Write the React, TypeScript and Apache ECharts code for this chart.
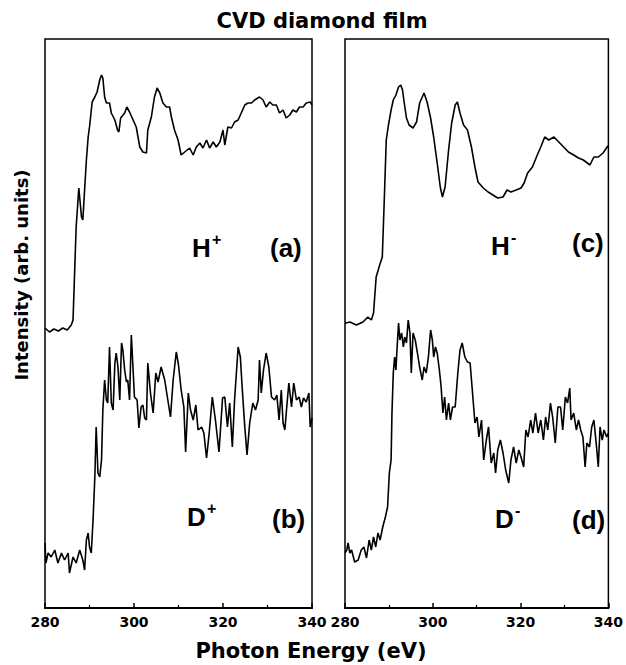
import React, { useEffect, useRef } from "react";
import * as echarts from "echarts";

// Photon energy (eV) vs intensity (arb. units)
const spectrumHPlus: [number, number][] = [
  [280, 280], [281, 276], [282, 279], [283, 277], [284, 280], [285, 278], [285.9, 283], [286.3, 288],
  [287.0, 381], [287.6, 420], [288.2, 391], [288.5, 388], [289.3, 448], [289.7, 471], [290.0, 481], [290.6, 506],
  [291.2, 511], [291.7, 516], [292.3, 528], [292.7, 533], [293.0, 530], [293.4, 511], [293.8, 505], [294.5, 505],
  [294.9, 495], [295.7, 488], [296.3, 478], [296.6, 476], [297.0, 490], [297.9, 495], [298.4, 501], [299.0, 496],
  [299.8, 488], [300.5, 481], [301.3, 461], [302.0, 456], [302.8, 455], [303.1, 478], [303.9, 491], [304.6, 511],
  [305.2, 520], [305.8, 515], [306.5, 505], [307.3, 501], [308.0, 501], [308.4, 491], [309.1, 478], [309.9, 468],
  [310.6, 453], [311.4, 456], [312.5, 460], [313.3, 453], [314.0, 461], [314.8, 465], [315.5, 460], [316.3, 468],
  [317.0, 460], [317.8, 466], [318.5, 461], [319.3, 466], [320.0, 478], [320.4, 463], [321.1, 481], [321.9, 480],
  [322.6, 486], [323.4, 488], [324.1, 495], [324.9, 503], [325.6, 505], [326.4, 505], [327.1, 508], [328.2, 511],
  [329.0, 508], [329.7, 501], [330.5, 506], [331.2, 503], [332.0, 503], [332.7, 495], [333.5, 498], [334.2, 490],
  [335.0, 493], [335.7, 498], [336.5, 496], [337.2, 501], [338.0, 501], [338.7, 505], [339.6, 506], [340, 503],
];

const spectrumDPlus: [number, number][] = [
  [280, 65], [280.2, 45], [280.7, 55], [281.4, 51], [282.2, 58], [282.9, 45], [283.7, 55], [284.4, 48],
  [285.2, 55], [285.5, 35], [286.3, 51], [287.0, 45], [287.8, 58], [288.5, 48], [288.9, 38], [289.3, 68],
  [289.7, 75], [290.0, 61], [290.4, 55], [290.8, 88], [291.2, 131], [291.5, 181], [291.9, 135], [292.3, 131],
  [292.7, 148], [293.0, 198], [293.4, 228], [293.8, 208], [294.1, 205], [294.5, 261], [294.9, 205], [295.3, 198],
  [295.7, 245], [296.0, 255], [296.4, 241], [296.8, 208], [297.2, 265], [297.5, 258], [297.9, 238], [298.3, 226],
  [298.6, 228], [299.0, 208], [299.4, 273], [299.8, 238], [300.1, 211], [300.7, 208], [301.1, 180], [301.6, 201],
  [302.0, 203], [302.4, 190], [302.8, 188], [303.1, 245], [303.7, 215], [304.3, 195], [304.9, 235], [305.4, 226],
  [306.1, 241], [306.9, 228], [307.6, 208], [308.2, 191], [308.8, 228], [309.5, 256], [310.0, 243], [310.6, 218],
  [311.2, 201], [311.6, 156], [312.2, 215], [312.7, 198], [313.3, 188], [313.9, 203], [314.4, 178], [315.2, 181],
  [315.7, 175], [316.3, 150], [316.9, 175], [317.6, 211], [318.3, 188], [319.1, 156], [319.9, 210], [320.4, 211],
  [321.0, 181], [321.5, 205], [322.1, 161], [322.6, 208], [323.4, 261], [323.9, 251], [324.3, 221], [324.9, 181],
  [325.4, 153], [326.0, 185], [326.7, 205], [327.3, 198], [327.9, 208], [328.2, 248], [328.6, 215], [329.1, 238],
  [329.7, 255], [330.3, 241], [330.9, 211], [331.6, 208], [332.1, 213], [332.6, 188], [333.1, 218], [333.5, 185],
  [333.9, 178], [334.4, 205], [334.8, 225], [335.4, 201], [335.9, 225], [336.5, 208], [337.1, 211], [337.6, 201],
  [338.1, 210], [338.7, 206], [339.3, 215], [339.6, 181], [340, 190],
];

const spectrumHMinus: [number, number][] = [
  [280, 284], [280.2, 285], [281.1, 286], [282.6, 283], [284.1, 286], [285.2, 291], [286.0, 288], [286.5, 295],
  [287.1, 331], [287.9, 343], [288.5, 351], [289.0, 415], [289.4, 468], [289.9, 483], [290.5, 498], [291.0, 508],
  [291.6, 513], [292.2, 521], [292.7, 523], [293.1, 518], [293.5, 505], [294.0, 490], [294.6, 483], [295.5, 480],
  [296.3, 486], [297.0, 505], [298.0, 515], [298.7, 506], [299.5, 490], [300.2, 471], [301.0, 445], [301.7, 421],
  [302.2, 411], [302.8, 421], [303.6, 458], [304.3, 485], [305.1, 503], [305.6, 506], [306.2, 495], [307.0, 483],
  [307.9, 478], [308.8, 461], [309.6, 441], [310.3, 426], [311.5, 420], [312.6, 416], [313.7, 413], [314.8, 410],
  [316.0, 411], [316.9, 418], [317.8, 416], [319.0, 418], [320.1, 420], [320.8, 425], [321.6, 435], [322.7, 441],
  [323.8, 453], [324.6, 461], [325.5, 471], [326.4, 468], [327.6, 471], [328.7, 466], [329.8, 461], [330.9, 456],
  [332.1, 453], [333.2, 450], [334.3, 448], [335.8, 443], [336.7, 451], [337.7, 451], [338.8, 455], [339.7, 461],
  [340, 462],
];

const spectrumDMinus: [number, number][] = [
  [280, 55], [280.4, 58], [280.7, 65], [281.1, 55], [281.5, 58], [282.2, 46], [283.0, 48], [283.7, 58],
  [284.3, 61], [284.9, 50], [285.5, 68], [286.0, 58], [286.5, 71], [287.0, 61], [287.5, 75], [288.0, 68],
  [288.6, 81], [289.2, 91], [289.7, 101], [290.1, 135], [290.5, 148], [290.7, 195], [291.0, 235], [291.3, 251],
  [291.6, 238], [291.8, 255], [292.2, 285], [292.5, 268], [292.9, 275], [293.3, 261], [293.6, 271], [294.0, 265],
  [294.4, 288], [294.8, 275], [295.1, 235], [295.5, 275], [296.0, 268], [296.5, 255], [297.0, 241], [297.6, 228],
  [298.0, 241], [298.5, 235], [299.0, 251], [299.5, 278], [299.9, 268], [300.2, 251], [300.6, 261], [301.0, 255],
  [301.5, 238], [301.9, 221], [302.3, 195], [302.7, 211], [303.1, 188], [303.6, 205], [304.0, 188], [304.5, 201],
  [305.1, 201], [305.7, 235], [306.2, 258], [306.7, 265], [307.3, 251], [307.9, 246], [308.5, 245], [309.0, 218],
  [309.6, 185], [310.1, 191], [310.5, 171], [311.1, 188], [311.6, 148], [312.2, 168], [312.7, 181], [313.3, 145],
  [313.9, 155], [314.3, 135], [314.8, 158], [315.4, 168], [316.0, 155], [316.6, 138], [317.3, 125], [317.8, 148],
  [318.4, 161], [319.0, 145], [319.6, 158], [320.1, 151], [320.7, 141], [321.2, 178], [321.7, 171], [322.3, 188],
  [322.8, 175], [323.4, 195], [324.0, 175], [324.6, 188], [325.2, 168], [325.7, 191], [326.2, 178], [326.8, 205],
  [327.3, 191], [327.9, 165], [328.5, 201], [329.1, 201], [329.6, 178], [330.2, 211], [330.7, 205], [331.2, 220],
  [331.5, 188], [332.1, 195], [332.7, 178], [333.2, 188], [333.7, 178], [334.2, 171], [334.7, 141], [335.1, 165],
  [335.7, 161], [336.2, 181], [336.7, 188], [337.3, 161], [337.7, 141], [338.1, 181], [338.6, 168], [339.0, 178],
  [339.6, 171], [340, 175],
];

const xTickValues = [280, 300, 320, 340];
const panelLabels = ["(a)", "(b)", "(c)", "(d)"];
const ionLabels = ["H", "D", "H", "D"];
const ionCharges = ["+", "+", "-", "-"];

export default function App() {
  const ref = useRef<HTMLDivElement>(null);

  useEffect(() => {
    document.body.style.margin = "0";
    if (!ref.current) return;
    const chart = echarts.init(ref.current, null, { renderer: "svg" });

    const xAxisBase = (gridIndex: number) => ({
      type: "value" as const,
      gridIndex,
      min: xTickValues[0],
      max: xTickValues[xTickValues.length - 1],
      interval: xTickValues[1] - xTickValues[0],
      axisLine: { show: true, onZero: false, lineStyle: { color: "#000", width: 2 } },
      axisTick: { show: true, inside: true, length: 5, lineStyle: { color: "#000", width: 1.5 } },
      minorTick: { show: true, splitNumber: 2, length: 3, lineStyle: { color: "#000", width: 1.2 } },
      splitLine: { show: false },
      minorSplitLine: { show: false },
      axisLabel: {
        color: "#000",
        fontFamily: "DejaVu Sans",
        fontWeight: "bold" as const,
        fontSize: 14,
        margin: 7,
      },
    });

    const yAxisBase = (gridIndex: number) => ({
      type: "value" as const,
      gridIndex,
      min: 0,
      max: 569,
      show: false,
    });

    const lineSeries = (data: [number, number][], idx: number) => ({
      type: "line" as const,
      xAxisIndex: idx,
      yAxisIndex: idx,
      data,
      showSymbol: false,
      symbol: "none",
      lineStyle: { color: "#000", width: 1.6 },
      z: 3,
    });

    const labelFont = "bold 26px 'Liberation Sans', Arial, sans-serif";
    const chargeFont = "bold 16px 'Liberation Sans', Arial, sans-serif";

    // label anchor positions (pixels)
    const ionPos = [
      [192, 248],
      [187, 517],
      [491, 246],
      [495, 519],
    ];
    const panelPos = [
      [270, 248],
      [272, 519],
      [572, 243],
      [572, 520],
    ];

    const graphics: any[] = [
      {
        type: "text",
        x: 322,
        y: 21,
        style: {
          text: "CVD diamond film",
          font: "bold 21px 'DejaVu Sans', sans-serif",
          fill: "#000",
          align: "center",
          verticalAlign: "middle",
        },
      },
      {
        type: "text",
        x: 311,
        y: 651,
        style: {
          text: "Photon Energy (eV)",
          font: "bold 21px 'DejaVu Sans', sans-serif",
          fill: "#000",
          align: "center",
          verticalAlign: "middle",
        },
      },
      {
        type: "text",
        x: 21,
        y: 275,
        rotation: Math.PI / 2,
        style: {
          text: "Intensity (arb. units)",
          font: "bold 18px 'DejaVu Sans', sans-serif",
          fill: "#000",
          align: "center",
          verticalAlign: "middle",
        },
      },
    ];

    for (let i = 0; i < 4; i++) {
      graphics.push({
        type: "text",
        x: ionPos[i][0],
        y: ionPos[i][1],
        style: { text: ionLabels[i], font: labelFont, fill: "#000", align: "left", verticalAlign: "middle" },
      });
      graphics.push({
        type: "text",
        x: ionPos[i][0] + 20,
        y: ionPos[i][1] - 9,
        style: { text: ionCharges[i], font: chargeFont, fill: "#000", align: "left", verticalAlign: "middle" },
      });
      graphics.push({
        type: "text",
        x: panelPos[i][0],
        y: panelPos[i][1],
        style: { text: panelLabels[i], font: labelFont, fill: "#000", align: "left", verticalAlign: "middle" },
      });
    }

    chart.setOption({
      animation: false,
      backgroundColor: "#fff",
      grid: [
        { left: 45, right: 314, top: 39, bottom: 57, show: true, borderColor: "#000", borderWidth: 1.5, backgroundColor: "transparent" },
        { left: 345, right: 14, top: 39, bottom: 57, show: true, borderColor: "#000", borderWidth: 1.5, backgroundColor: "transparent" },
      ],
      xAxis: [xAxisBase(0), xAxisBase(1)],
      yAxis: [yAxisBase(0), yAxisBase(1)],
      series: [
        lineSeries(spectrumHPlus, 0),
        lineSeries(spectrumDPlus, 0),
        lineSeries(spectrumHMinus, 1),
        lineSeries(spectrumDMinus, 1),
      ],
      graphic: graphics,
    });

    return () => chart.dispose();
  }, []);

  return <div ref={ref} style={{ width: 626, height: 665 }} />;
}
